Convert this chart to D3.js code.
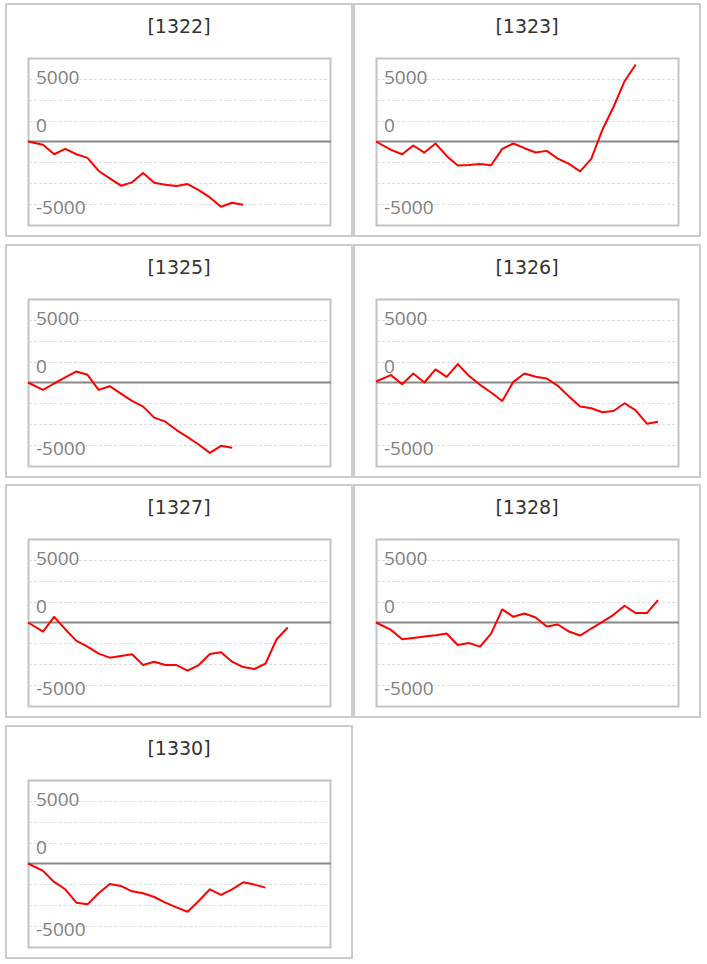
<!DOCTYPE html>
<html>
<head>
<meta charset="utf-8">
<script src="https://cdn.jsdelivr.net/npm/d3@7/dist/d3.min.js"></script>
<style>
  html, body { margin: 0; padding: 0; background: #fff; }
  svg { display: block; }
</style>
</head>
<body>
<svg id="chart" width="707" height="964"></svg>
<script>
// ---- data ----
const titles = ["[1322]", "[1323]", "[1325]", "[1326]", "[1327]", "[1328]", "[1330]"];

const s1322 = [0, -267, -1016, -588, -1016, -1310, -2353, -2941, -3529, -3262, -2513, -3289, -3449, -3556, -3396, -3877, -4465, -5214, -4893, -5053];
const s1323 = [0, -668, -1016, -321, -882, -160, -1150, -1925, -1872, -1791, -1898, -588, -160, -535, -882, -749, -1364, -1791, -2380, -1390, 936, 2754, 4813, 6150];
const s1325 = [0, -588, -80, 401, 882, 615, -588, -294, -882, -1471, -1925, -2807, -3128, -3797, -4358, -4947, -5615, -5053, -5214];
const s1326 = [80, 588, -134, 722, 0, 1043, 455, 1471, 535, -187, -802, -1471, 53, 722, 455, 321, -267, -1123, -1925, -2059, -2380, -2273, -1658, -2219, -3289, -3128];
const s1327 = [0, -722, 455, -535, -1471, -1925, -2487, -2807, -2674, -2540, -3396, -3128, -3396, -3396, -3850, -3396, -2513, -2380, -3128, -3556, -3717, -3289, -1337, -401];
const s1328 = [0, -588, -1337, -1230, -1123, -1016, -882, -1791, -1631, -1925, -882, 1043, 455, 722, 401, -321, -160, -722, -1043, -481, 53, 615, 1337, 749, 749, 1791];
const s1330 = [0, -588, -1471, -2059, -3128, -3262, -2380, -1631, -1791, -2219, -2380, -2674, -3128, -3503, -3850, -2995, -2059, -2513, -2059, -1497, -1684, -1925];

const seriesList = [s1322, s1323, s1325, s1326, s1327, s1328, s1330];

const yDomain = [-6666.67, 6666.67];
const gridValues = [5000, 3333.33, 1666.67, -1666.67, -3333.33, -5000];
const tickLabels = [5000, 0, -5000];
const xDomain = [-0.35, 26.8];

// ---- layout ----
const svg = d3.select("#chart");
const panelW = 348, panelH = 234;
const colX = [5, 353];
const rowPitch = 240.67, rowTop = 3;

const boxL = 23, boxR = 325, boxT = 55, boxB = 222;
const labelOffset = {"5000": 5, "0": -10, "-5000": 10};

seriesList.forEach((vals, k) => {
  const col = k % 2, row = Math.floor(k / 2);
  const px = colX[col], py = Math.round(rowTop + row * rowPitch);
  const g = svg.append("g").attr("transform", `translate(${px},${py})`);

  g.append("rect")
    .attr("x", 1).attr("y", 1)
    .attr("width", panelW - 2).attr("height", panelH - 2)
    .attr("fill", "#fff").attr("stroke", "#cccccc").attr("stroke-width", 2);

  g.append("text")
    .attr("x", panelW / 2).attr("y", 30)
    .attr("text-anchor", "middle")
    .attr("font-family", "'DejaVu Sans', Verdana, sans-serif")
    .attr("font-size", 19)
    .attr("fill", "#333")
    .text(titles[k]);

  const x = d3.scaleLinear().domain(xDomain).range([boxL, boxR]);
  const y = d3.scaleLinear().domain(yDomain).range([boxB, boxT]);

  g.append("rect")
    .attr("x", boxL + 0.5).attr("y", boxT + 0.5)
    .attr("width", boxR - boxL).attr("height", boxB - boxT)
    .attr("fill", "#fff").attr("stroke", "#c4c4c4").attr("stroke-width", 2);

  g.selectAll("line.grid").data(gridValues).enter().append("line")
    .attr("class", "grid")
    .attr("x1", boxL + 1).attr("x2", boxR)
    .attr("y1", d => Math.round(y(d)) + 0.5).attr("y2", d => Math.round(y(d)) + 0.5)
    .attr("stroke", "#dddddd").attr("stroke-width", 1)
    .attr("stroke-dasharray", "3,2");

  g.selectAll("text.tick").data(tickLabels).enter().append("text")
    .attr("class", "tick")
    .attr("x", boxL + 8)
    .attr("y", d => y(d) + labelOffset[String(d)])
    .attr("font-family", "'Open Sans', 'Noto Sans', sans-serif")
    .attr("font-size", 19)
    .attr("fill", "#808080")
    .text(d => d);

  g.append("line")
    .attr("x1", boxL).attr("x2", boxR + 1)
    .attr("y1", y(0)).attr("y2", y(0))
    .attr("stroke", "#888").attr("stroke-width", 2);

  const line = d3.line()
    .x((d, i) => i === 0 ? x(xDomain[0]) : x(i))
    .y(d => y(d));

  g.append("path")
    .datum(vals)
    .attr("d", line)
    .attr("fill", "none")
    .attr("stroke", "#ff0000")
    .attr("stroke-width", 2)
    .attr("stroke-linejoin", "round");
});
</script>
</body>
</html>
